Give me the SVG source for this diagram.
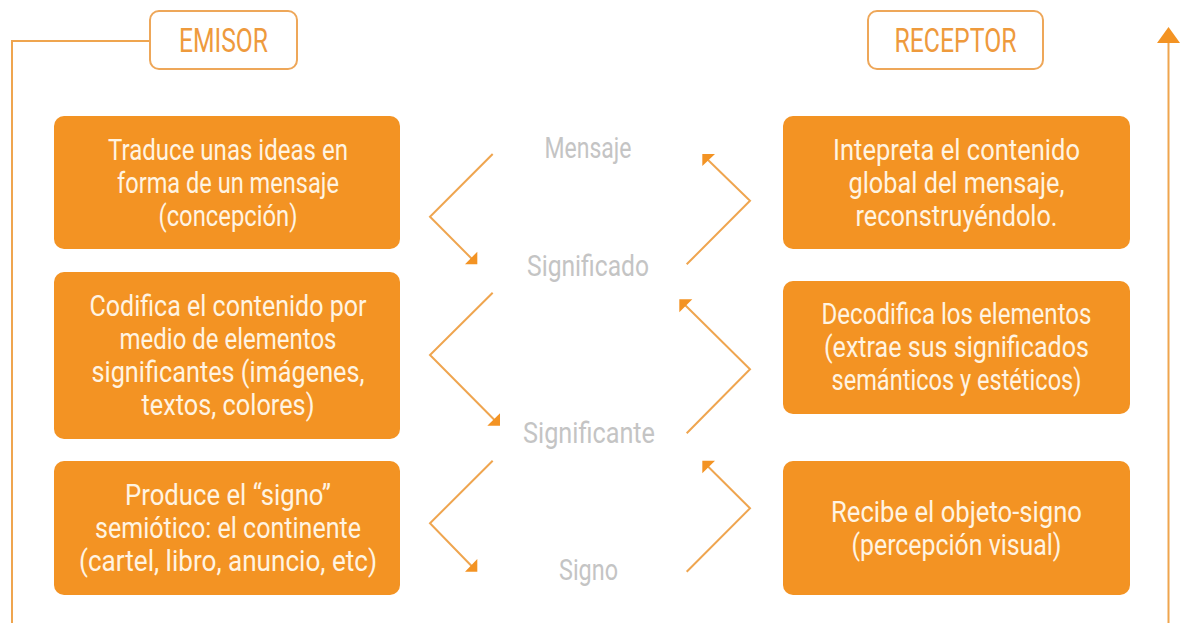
<svg xmlns="http://www.w3.org/2000/svg" width="1186" height="623" viewBox="0 0 1186 623">
<style>
.box{fill:#f39323;}
.bt{font-family:Roboto,"Liberation Sans",sans-serif;font-size:30px;fill:#fff4e2;text-anchor:middle;}
.ob{fill:#ffffff;stroke:#eea759;stroke-width:2;}
.ot{font-family:Roboto,"Liberation Sans",sans-serif;font-size:33px;fill:#ee9a3d;text-anchor:middle;}
.gl{font-family:Roboto,"Liberation Sans",sans-serif;font-size:29px;fill:#c4c4c4;text-anchor:middle;}
.ln{fill:none;stroke:#efa54f;stroke-width:2;}
.ah{fill:#f39323;}
</style>
<rect width="1186" height="623" fill="#ffffff"/>
<g id="connectors">
  <polyline class="ln" points="150,41 12,41 12,623"/>
  <line class="ln" x1="1168.5" y1="623" x2="1168.5" y2="40"/>
  <polygon class="ah" points="1168.5,27 1157,43 1180,43"/>
  <polyline class="ln" points="492.7,154 430,216.7 473,260"/>
  <polygon class="ah" points="465,264.3 477.3,264.3 477.3,251.7"/>
  <polyline class="ln" points="492.7,292.7 430,355 496,421.5"/>
  <polygon class="ah" points="487.3,425.7 500,425.7 500,413.3"/>
  <polyline class="ln" points="492.7,460.7 430,523.3 473,567.5"/>
  <polygon class="ah" points="465,571.7 477.3,571.7 477.3,559"/>
  <polyline class="ln" points="686.7,264.3 750,200.7 706,158"/>
  <polygon class="ah" points="702.3,154 715,154 702.3,166"/>
  <polyline class="ln" points="686.7,433.3 750,369.3 683,303"/>
  <polygon class="ah" points="679.3,299.3 692.3,299.3 679.3,312.3"/>
  <polyline class="ln" points="686.7,571.7 750,508.3 706,464.5"/>
  <polygon class="ah" points="702.3,460.7 715,460.7 702.3,473.3"/>
</g>
<g id="emisor">
  <rect class="ob" x="150" y="11" width="147" height="58" rx="9"/>
  <text class="ot" x="223.5" y="52" textLength="89" lengthAdjust="spacingAndGlyphs">EMISOR</text>
</g>
<g id="receptor">
  <rect class="ob" x="868" y="11" width="175" height="58" rx="9"/>
  <text class="ot" x="955.5" y="52" textLength="122" lengthAdjust="spacingAndGlyphs">RECEPTOR</text>
</g>
<g id="label-mensaje"><text class="gl" x="588" y="158" textLength="87" lengthAdjust="spacingAndGlyphs">Mensaje</text></g>
<g id="label-significado"><text class="gl" x="588" y="276" textLength="122" lengthAdjust="spacingAndGlyphs">Significado</text></g>
<g id="label-significante"><text class="gl" x="589" y="443" textLength="132" lengthAdjust="spacingAndGlyphs">Significante</text></g>
<g id="label-signo"><text class="gl" x="588.5" y="580" textLength="59" lengthAdjust="spacingAndGlyphs">Signo</text></g>
<g id="emisor-1">
  <rect class="box" x="54" y="116" width="346" height="133" rx="10"/>
  <text class="bt" x="228" y="160" textLength="240" lengthAdjust="spacingAndGlyphs">Traduce unas ideas en</text>
  <text class="bt" x="228" y="193" textLength="222" lengthAdjust="spacingAndGlyphs">forma de un mensaje</text>
  <text class="bt" x="228" y="226" textLength="139" lengthAdjust="spacingAndGlyphs">(concepción)</text>
</g>
<g id="emisor-2">
  <rect class="box" x="54" y="272" width="346" height="167" rx="10"/>
  <text class="bt" x="228" y="316" textLength="277" lengthAdjust="spacingAndGlyphs">Codifica el contenido por</text>
  <text class="bt" x="228" y="349" textLength="217" lengthAdjust="spacingAndGlyphs">medio de elementos</text>
  <text class="bt" x="228" y="382" textLength="273" lengthAdjust="spacingAndGlyphs">significantes (imágenes,</text>
  <text class="bt" x="228" y="415" textLength="173" lengthAdjust="spacingAndGlyphs">textos, colores)</text>
</g>
<g id="emisor-3">
  <rect class="box" x="54" y="461" width="346" height="134" rx="10"/>
  <text class="bt" x="228" y="505" textLength="206" lengthAdjust="spacingAndGlyphs">Produce el “signo”</text>
  <text class="bt" x="228" y="538" textLength="266" lengthAdjust="spacingAndGlyphs">semiótico: el continente</text>
  <text class="bt" x="228" y="571" textLength="298" lengthAdjust="spacingAndGlyphs">(cartel, libro, anuncio, etc)</text>
</g>
<g id="receptor-1">
  <rect class="box" x="783" y="116" width="347" height="133" rx="10"/>
  <text class="bt" x="956.5" y="160" textLength="247" lengthAdjust="spacingAndGlyphs">Intepreta el contenido</text>
  <text class="bt" x="956.5" y="193" textLength="216" lengthAdjust="spacingAndGlyphs">global del mensaje,</text>
  <text class="bt" x="956.5" y="226" textLength="202" lengthAdjust="spacingAndGlyphs">reconstruyéndolo.</text>
</g>
<g id="receptor-2">
  <rect class="box" x="783" y="281" width="347" height="133" rx="10"/>
  <text class="bt" x="956.5" y="324" textLength="270" lengthAdjust="spacingAndGlyphs">Decodifica los elementos</text>
  <text class="bt" x="956.5" y="357" textLength="265" lengthAdjust="spacingAndGlyphs">(extrae sus significados</text>
  <text class="bt" x="956.5" y="390" textLength="250" lengthAdjust="spacingAndGlyphs">semánticos y estéticos)</text>
</g>
<g id="receptor-3">
  <rect class="box" x="783" y="461" width="347" height="134" rx="10"/>
  <text class="bt" x="956.5" y="522" textLength="251" lengthAdjust="spacingAndGlyphs">Recibe el objeto-signo</text>
  <text class="bt" x="956.5" y="555" textLength="210" lengthAdjust="spacingAndGlyphs">(percepción visual)</text>
</g>
</svg>
